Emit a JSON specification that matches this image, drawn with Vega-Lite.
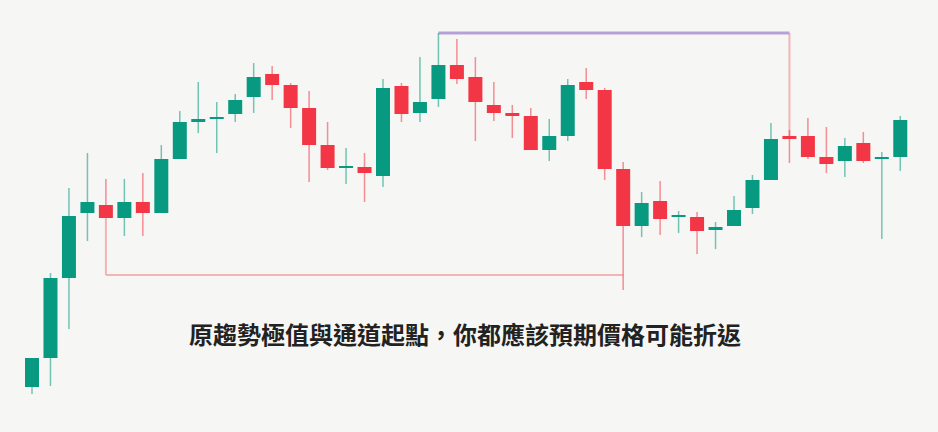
{
  "$schema": "https://vega.github.io/schema/vega-lite/v6.json",
  "width": 938,
  "height": 432,
  "autosize": {"type": "fit", "contains": "padding"},
  "padding": 0,
  "background": "#f6f6f4",
  "config": {"view": {"stroke": null}},
  "datasets": {
    "candles": [
      {"i": 1, "o": 113, "h": 142, "l": 106, "c": 142},
      {"i": 2, "o": 142, "h": 227, "l": 114, "c": 222},
      {"i": 3, "o": 222, "h": 312, "l": 171, "c": 284},
      {"i": 4, "o": 287, "h": 347, "l": 259, "c": 298},
      {"i": 5, "o": 295, "h": 321, "l": 282, "c": 282},
      {"i": 6, "o": 282, "h": 321, "l": 264, "c": 298},
      {"i": 7, "o": 298, "h": 327, "l": 264, "c": 287},
      {"i": 8, "o": 287, "h": 355, "l": 287, "c": 341},
      {"i": 9, "o": 341, "h": 389, "l": 341, "c": 378},
      {"i": 10, "o": 378, "h": 418, "l": 367, "c": 381},
      {"i": 11, "o": 381, "h": 398, "l": 347, "c": 383},
      {"i": 12, "o": 386, "h": 406, "l": 378, "c": 400},
      {"i": 13, "o": 403, "h": 437, "l": 387, "c": 423},
      {"i": 14, "o": 426, "h": 434, "l": 400, "c": 415},
      {"i": 15, "o": 415, "h": 417, "l": 372, "c": 392},
      {"i": 16, "o": 392, "h": 409, "l": 318, "c": 355},
      {"i": 17, "o": 355, "h": 378, "l": 330, "c": 332},
      {"i": 18, "o": 332, "h": 352, "l": 316, "c": 334},
      {"i": 19, "o": 333, "h": 347, "l": 298, "c": 327},
      {"i": 20, "o": 324, "h": 421, "l": 313, "c": 412},
      {"i": 21, "o": 414, "h": 417, "l": 378, "c": 386},
      {"i": 22, "o": 387, "h": 443, "l": 378, "c": 398},
      {"i": 23, "o": 401, "h": 467, "l": 393, "c": 435},
      {"i": 24, "o": 435, "h": 461, "l": 416, "c": 421},
      {"i": 25, "o": 423, "h": 443, "l": 359, "c": 398},
      {"i": 26, "o": 395, "h": 418, "l": 379, "c": 387},
      {"i": 27, "o": 387, "h": 395, "l": 362, "c": 384},
      {"i": 28, "o": 384, "h": 392, "l": 350, "c": 350},
      {"i": 29, "o": 350, "h": 381, "l": 339, "c": 364},
      {"i": 30, "o": 364, "h": 421, "l": 359, "c": 415},
      {"i": 31, "o": 418, "h": 432, "l": 401, "c": 410},
      {"i": 32, "o": 410, "h": 412, "l": 320, "c": 331},
      {"i": 33, "o": 331, "h": 338, "l": 210, "c": 274},
      {"i": 34, "o": 274, "h": 308, "l": 263, "c": 297},
      {"i": 35, "o": 299, "h": 319, "l": 265, "c": 281},
      {"i": 36, "o": 283, "h": 289, "l": 267, "c": 285},
      {"i": 37, "o": 283, "h": 288, "l": 246, "c": 269},
      {"i": 38, "o": 270, "h": 278, "l": 251, "c": 273},
      {"i": 39, "o": 274, "h": 304, "l": 274, "c": 290},
      {"i": 40, "o": 292, "h": 325, "l": 286, "c": 320},
      {"i": 41, "o": 320, "h": 377, "l": 320, "c": 361},
      {"i": 42, "o": 364, "h": 370, "l": 337, "c": 361},
      {"i": 43, "o": 364, "h": 382, "l": 341, "c": 343},
      {"i": 44, "o": 343, "h": 373, "l": 327, "c": 336},
      {"i": 45, "o": 339, "h": 362, "l": 323, "c": 354},
      {"i": 46, "o": 357, "h": 368, "l": 337, "c": 339},
      {"i": 47, "o": 341, "h": 348, "l": 261, "c": 343},
      {"i": 48, "o": 343, "h": 384, "l": 329, "c": 380}
    ],
    "segs": [
      {"kind": "level", "x": 5, "x2": 33, "y": 225, "y2": 225},
      {"kind": "level", "x": 5, "x2": 5, "y": 282, "y2": 225},
      {"kind": "level", "x": 42, "x2": 42, "y": 467, "y2": 364},
      {"kind": "peak", "x": 23, "x2": 42, "y": 467, "y2": 467}
    ],
    "caption": [
      {"x": 24.44, "y": 163, "text": "原趨勢極值與通道起點，你都應該預期價格可能折返"}
    ]
  },
  "layer": [
    {
      "data": {"name": "segs"},
      "mark": {"type": "rule", "strokeCap": "butt"},
      "encoding": {
        "x": {"field": "x", "type": "quantitative", "scale": {"domain": [-0.732, 50.042], "nice": false, "zero": false, "padding": 0}, "axis": null},
        "x2": {"field": "x2"},
        "y": {"field": "y", "type": "quantitative", "scale": {"domain": [68, 500], "nice": false, "zero": false, "padding": 0}, "axis": null},
        "y2": {"field": "y2"},
        "color": {"field": "kind", "type": "nominal", "scale": {"domain": ["level", "peak"], "range": ["#f3b3b7", "#b5a1d8"]}, "legend": null},
        "strokeWidth": {"field": "kind", "type": "nominal", "scale": {"domain": ["level", "peak"], "range": [2, 3]}, "legend": null}
      }
    },
    {
      "data": {"name": "candles"},
      "mark": {"type": "rule", "strokeWidth": 1.5, "opacity": 0.55},
      "encoding": {
        "x": {"field": "i", "type": "quantitative"},
        "y": {"field": "l", "type": "quantitative"},
        "y2": {"field": "h"},
        "color": {"condition": {"test": "datum.c >= datum.o", "value": "#089981"}, "value": "#f23645"}
      }
    },
    {
      "data": {"name": "candles"},
      "mark": {"type": "bar", "width": 14, "strokeWidth": 0.8, "strokeOpacity": 0.5},
      "encoding": {
        "x": {"field": "i", "type": "quantitative"},
        "y": {"field": "o", "type": "quantitative"},
        "y2": {"field": "c"},
        "color": {"condition": {"test": "datum.c >= datum.o", "value": "#089981"}, "value": "#f23645"}
      }
    },
    {
      "data": {"name": "caption"},
      "mark": {"type": "text", "font": "Noto Sans CJK TC", "fontSize": 24, "fontWeight": "bold", "color": "#222222", "baseline": "middle", "align": "center"},
      "encoding": {
        "x": {"field": "x", "type": "quantitative"},
        "y": {"field": "y", "type": "quantitative"},
        "text": {"field": "text"}
      }
    }
  ]
}
